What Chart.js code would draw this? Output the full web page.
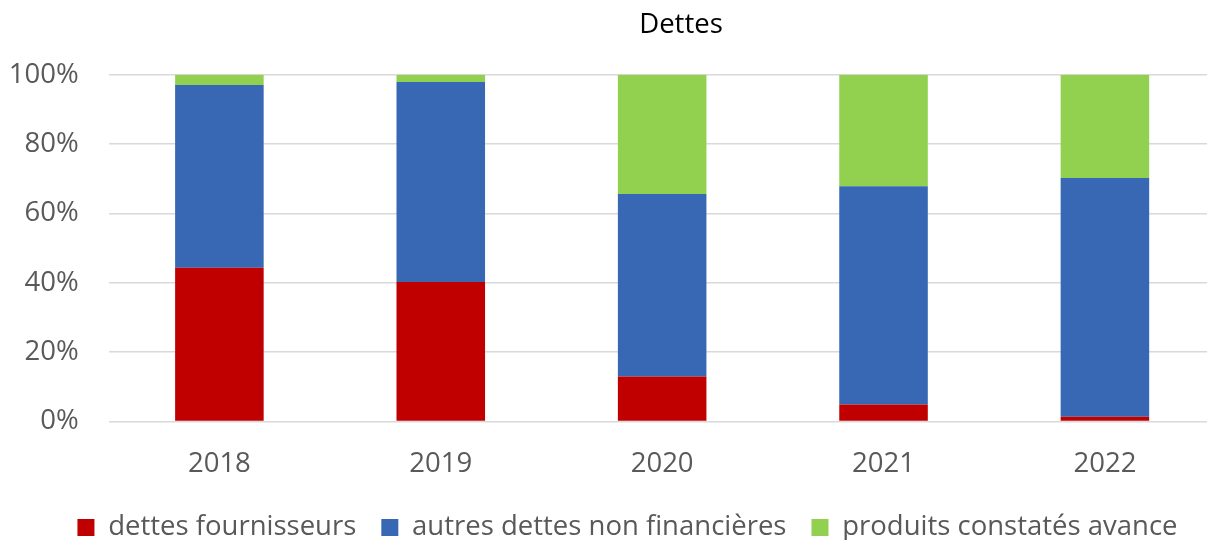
<!DOCTYPE html>
<html>
<head>
<meta charset="utf-8">
<script src="https://cdn.jsdelivr.net/npm/chart.js@4/dist/chart.umd.min.js"></script>
<style>
  html, body { margin:0; padding:0; background:#fff; overflow:hidden; }
  #wrap { width:1255px; height:560px; position:relative; }
</style>
</head>
<body>
<div id="wrap"><canvas id="chart"></canvas></div>
<script>
// data (share of total, %)
const years = ['2018', '2019', '2020', '2021', '2022'];
const fournisseurs = [44.3, 40.2, 13.0, 4.9, 1.4];
const autresDettes = [52.7, 57.7, 52.6, 62.9, 68.8];
const produitsAvance = [3.0, 2.1, 34.4, 32.2, 29.8];
const yTicks = [0, 20, 40, 60, 80, 100];

const FONT = "'Open Sans', sans-serif";
const GREY = '#595959';

// title drawn a bit right of the canvas centre, like the original
const titlePlugin = {
  id: 'dettesTitle',
  afterLayout(chart){
    // the legend sits a little right of centre in the original
    const lg = chart.legend;
    if (lg){ lg.left += 19.7; lg.right += 19.7; }
  },
  afterDraw(chart){
    const c = chart.ctx;
    c.save();
    c.font = `27.5px ${FONT}`;
    c.fillStyle = '#000';
    c.textAlign = 'center';
    c.textBaseline = 'alphabetic';
    c.fillText('Dettes', 681, 33);
    c.restore();
  }
};

const ds = (label, data, color) => ({
  label, data, backgroundColor: color, borderWidth: 0,
  categoryPercentage: 1, barPercentage: 0.4
});

new Chart(document.getElementById('chart'), {
  type: 'bar',
  data: {
    labels: years,
    datasets: [
      ds('dettes fournisseurs', fournisseurs, '#C00000'),
      ds('autres dettes non financières', autresDettes, '#3867B4'),
      ds('produits constatés avance', produitsAvance, '#92D050'),
    ]
  },
  options: {
    responsive: true,
    maintainAspectRatio: false,
    animation: false,
    layout: { padding: { left: 0, right: 39.4, top: 74.7, bottom: 8.8 } },
    plugins: {
      title: { display: false },
      tooltip: { enabled: false },
      legend: {
        position: 'bottom',
        labels: {
          color: GREY, font: { family: FONT, size: 27.5 },
          boxWidth: 17, boxHeight: 17, padding: 25
        }
      }
    },
    scales: {
      x: {
        stacked: true,
        grid: { display: false, drawTicks: false },
        border: { display: false },
        ticks: { color: GREY, font: { family: FONT, size: 27.5 }, padding: 25.7 },
        afterFit: s => { s.height = 67.2; }
      },
      y: {
        stacked: true,
        min: 0, max: 100,
        afterBuildTicks: s => { s.ticks = yTicks.map(v => ({ value: v })); },
        grid: { color: '#D9D9D9', lineWidth: 1.5, drawTicks: false },
        border: { display: false },
        ticks: { color: GREY, font: { family: FONT, size: 27.5 }, padding: 30, callback: v => v + '%' },
        afterFit: s => { s.width = 108.7; }
      }
    }
  },
  plugins: [titlePlugin]
});
</script>
</body>
</html>
